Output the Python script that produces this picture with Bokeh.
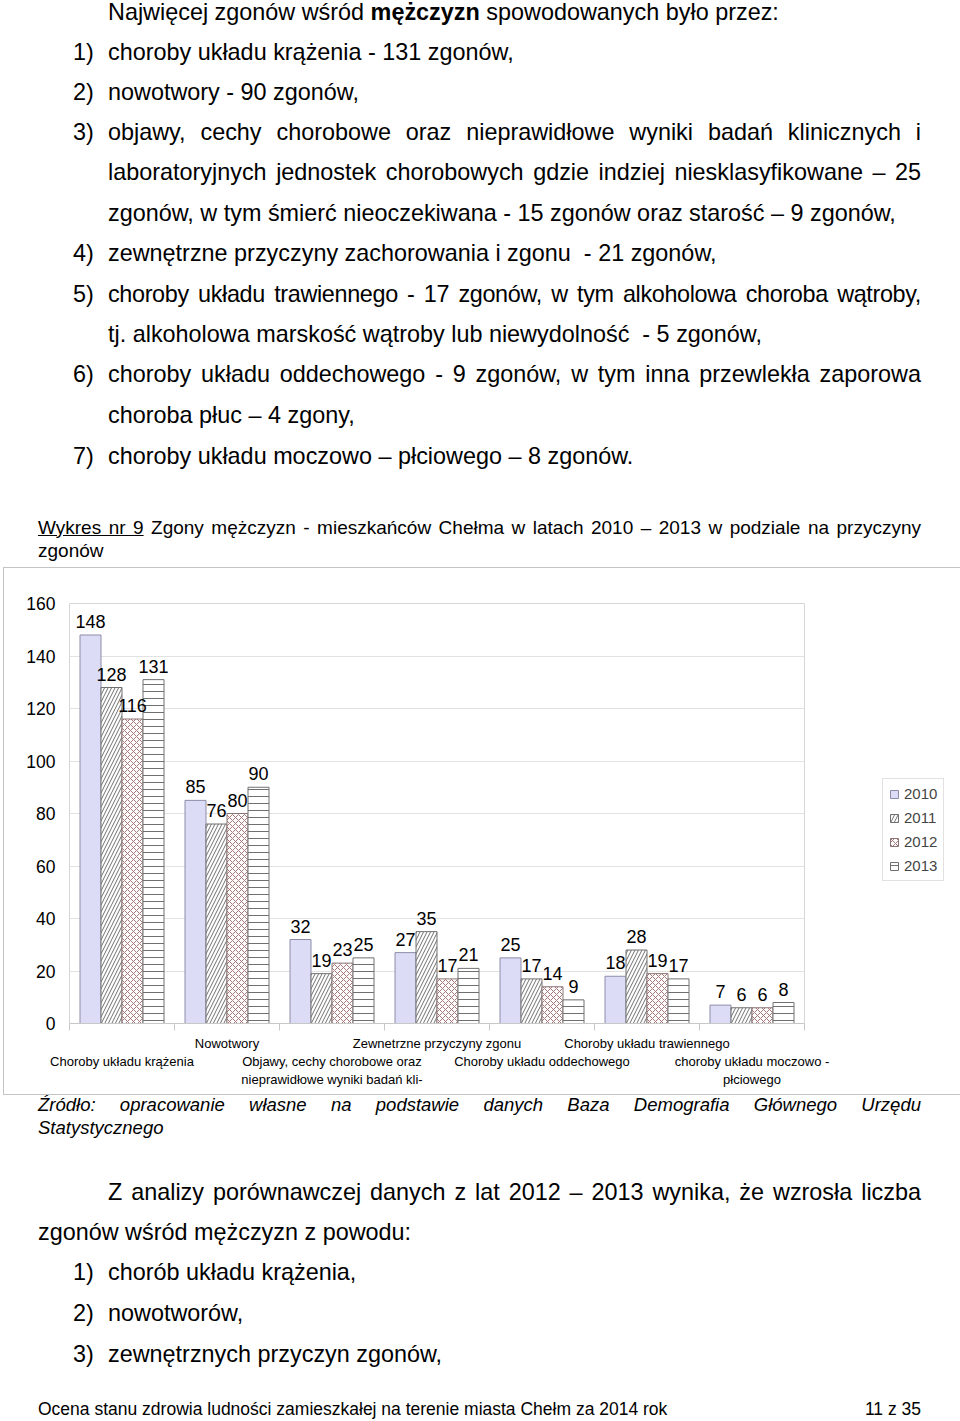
from bokeh.plotting import figure
from bokeh.models import (ColumnDataSource, Range1d, LinearAxis, FixedTicker, Legend, LegendItem, Div)
from bokeh.layouts import column
from bokeh.transform import dodge
from bokeh.core.properties import value
from bokeh.embed import file_html
from bokeh.resources import INLINE

# ---------------- data ----------------
categories = [
    "\nChoroby układu krążenia",
    "Nowotwory",
    "\nObjawy, cechy chorobowe oraz\nnieprawidłowe wyniki badań kli-",
    "Zewnetrzne przyczyny zgonu",
    "\nChoroby układu oddechowego",
    "Choroby układu trawiennego",
    "\nchoroby układu moczowo -\npłciowego",
]
years = ["2010", "2011", "2012", "2013"]
deaths_2010 = [148, 85, 32, 27, 25, 18, 7]
deaths_2011 = [128, 76, 19, 35, 17, 28, 6]
deaths_2012 = [116, 80, 23, 17, 14, 19, 6]
deaths_2013 = [131, 90, 25, 21, 9, 17, 8]
y_ticks = [0, 20, 40, 60, 80, 100, 120, 140, 160]

n = len(categories)
centers = [i + 0.5 for i in range(n)]          # category slot centres on a 0..n axis
bounds = list(range(n + 1))                     # category slot boundaries
series = [deaths_2010, deaths_2011, deaths_2012, deaths_2013]
data = {"pos": centers}
for yr, vals in zip(years, series):
    data["y" + yr] = vals
    data["t" + yr] = [str(v) for v in vals]
src = ColumnDataSource(data)

FONT = "Liberation Sans"

# ---------------- chart ----------------
p = figure(frame_width=733, frame_height=418, x_range=Range1d(0, n), y_range=Range1d(0, 160),
           output_backend="svg", toolbar_location=None, x_axis_location=None,
           min_border_left=65, min_border_right=154, min_border_top=35, min_border_bottom=73,
           margin=(0, 0, 0, 3), styles={"border": "1px solid #c4c4c4"})
p.outline_line_color = "#d6d6d6"
p.background_fill_color = "white"
p.border_fill_color = "white"

p.yaxis.ticker = FixedTicker(ticks=y_ticks)
p.ygrid.ticker = FixedTicker(ticks=y_ticks)
p.ygrid.grid_line_color = "#e2e2e2"
p.xgrid.visible = False
p.yaxis.axis_line_color = None
p.yaxis.major_tick_line_color = None
p.yaxis.minor_tick_line_color = None
p.yaxis.major_tick_out = 0
p.yaxis.major_tick_in = 0
p.yaxis.major_label_standoff = 14
p.yaxis.major_label_text_font_size = "17.5px"
p.yaxis.major_label_text_font = FONT
p.yaxis.major_label_text_color = "black"

x_axis = LinearAxis(ticker=FixedTicker(ticks=centers, minor_ticks=bounds),
                    major_label_overrides={c: lab for c, lab in zip(centers, categories)},
                    axis_line_color="#c8c8c8", major_tick_line_color=None,
                    minor_tick_line_color="#c8c8c8", minor_tick_out=7, minor_tick_in=0,
                    major_tick_out=7, major_tick_in=0,
                    major_label_standoff=5, major_label_text_font_size="13px",
                    major_label_text_font=FONT, major_label_text_line_height=1.2,
                    major_label_text_color="black")
p.add_layout(x_axis, "below")

offsets = [-0.3, -0.1, 0.1, 0.3]
styles = [
    dict(fill_color="#dcdcf6", line_color="#8c8ca8"),
    dict(fill_color="white", hatch_pattern="/", hatch_color="#707070", hatch_scale=7, hatch_weight=1, line_color="#707070"),
    dict(fill_color="white", hatch_pattern="x", hatch_color="#a87878", hatch_scale=6, hatch_weight=1, line_color="#8c7474"),
    dict(fill_color="white", hatch_pattern="-", hatch_color="#707070", hatch_scale=7, hatch_weight=1, line_color="#707070"),
]
items = []
for yr, off, st in zip(years, offsets, styles):
    r = p.vbar(x=dodge("pos", off), top="y" + yr, width=0.2, source=src, line_width=1, **st)
    items.append(LegendItem(label=yr, renderers=[r]))
for yr, off in zip(years, offsets):
    p.text(x=dodge("pos", off), y="y" + yr, text="t" + yr, source=src, text_align="center",
           text_baseline="bottom", y_offset=-7, text_font_size="18px", text_font=value(FONT),
           text_color="black")

legend = Legend(items=items, location=(78, 142), padding=6, spacing=7, label_height=16,
                glyph_height=10, glyph_width=10, label_standoff=5,
                label_text_font_size="15px", label_text_font=FONT,
                border_line_color="#c4c4c4", background_fill_color="white", margin=0)
p.add_layout(legend, "right")

# ---------------- page text ----------------
BODY = 23.4

def ln(y, x, html, w=None, size=BODY, just=False, style="", lh=30):
    top = y - lh / 2 - 1
    wdt = f"width:{w}px;" if w else "white-space:nowrap;"
    ja = "text-align:justify;text-align-last:justify;" if just else ""
    return (f'<div style="position:absolute;left:{x}px;top:{top}px;{wdt}{ja}'
            f'font-size:{size}px;line-height:{lh}px;{style}">{html}</div>')

def page(h, parts):
    return (f'<div style="position:relative;width:960px;height:{h}px;overflow:hidden;'
            f'font-family:\'Liberation Sans\',Arial,sans-serif;color:#000;">' + "".join(parts) + "</div>")

top_parts = [
    ln(13, 108, "Najwięcej zgonów wśród <b>mężczyzn</b> spowodowanych było przez:"),
    ln(53, 73, "1)"), ln(53, 108, "choroby układu krążenia - 131 zgonów,"),
    ln(93, 73, "2)"), ln(93, 108, "nowotwory - 90 zgonów,"),
    ln(133, 73, "3)"), ln(133, 108, "objawy, cechy chorobowe oraz nieprawidłowe wyniki badań klinicznych i", w=813, just=True),
    ln(173, 108, "laboratoryjnych jednostek chorobowych gdzie indziej niesklasyfikowane – 25", w=813, just=True),
    ln(214, 108, "zgonów, w tym śmierć nieoczekiwana - 15 zgonów oraz starość – 9 zgonów,"),
    ln(254, 73, "4)"), ln(254, 108, "zewnętrzne przyczyny zachorowania i zgonu&nbsp; - 21 zgonów,"),
    ln(295, 73, "5)"), ln(295, 108, "choroby układu trawiennego - 17 zgonów, w tym alkoholowa choroba wątroby,",
                          w=813, just=True, style="letter-spacing:-0.35px;"),
    ln(335, 108, "tj. alkoholowa marskość wątroby lub niewydolność&nbsp; - 5 zgonów,"),
    ln(375, 73, "6)"), ln(375, 108, "choroby układu oddechowego - 9 zgonów, w tym inna przewlekła zaporowa", w=813, just=True),
    ln(416, 108, "choroba płuc – 4 zgony,"),
    ln(457, 73, "7)"), ln(457, 108, "choroby układu moczowo – płciowego – 8 zgonów."),
    ln(528, 38, '<span style="text-decoration:underline">Wykres nr 9</span> Zgony mężczyzn - mieszkańców Chełma w latach 2010 – 2013 w podziale na przyczyny',
       w=883, just=True, size=19, lh=23),
    ln(551, 38, "zgonów", size=19, lh=23),
]
top_div = Div(text=page(567, top_parts), width=960, height=567, margin=0)

B = 1095
bottom_parts = [
    ln(1105 - B, 38, "Źródło: opracowanie własne na podstawie danych Baza Demografia Głównego Urzędu",
       w=883, just=True, size=18.5, lh=23, style="font-style:italic;"),
    ln(1128 - B, 38, "Statystycznego", size=18.5, lh=23, style="font-style:italic;"),
    ln(1193 - B, 108, "Z analizy porównawczej danych z lat 2012 – 2013 wynika, że wzrosła liczba", w=813, just=True),
    ln(1233 - B, 38, "zgonów wśród mężczyzn z powodu:"),
    ln(1273 - B, 73, "1)"), ln(1273 - B, 108, "chorób układu krążenia,"),
    ln(1314 - B, 73, "2)"), ln(1314 - B, 108, "nowotworów,"),
    ln(1355 - B, 73, "3)"), ln(1355 - B, 108, "zewnętrznych przyczyn zgonów,"),
    ln(1410 - B, 38, "Ocena stanu zdrowia ludności zamieszkałej na terenie miasta Chełm za 2014 rok", size=17.5, lh=22),
    ln(1410 - B, 800, "11 z 35", w=121, size=17.5, lh=22, style="text-align:right;"),
]
bottom_div = Div(text=page(326, bottom_parts), width=960, height=326, margin=0)

layout = column(top_div, p, bottom_div, spacing=0, margin=0)
open("out.html", "w").write(file_html(layout, INLINE))
